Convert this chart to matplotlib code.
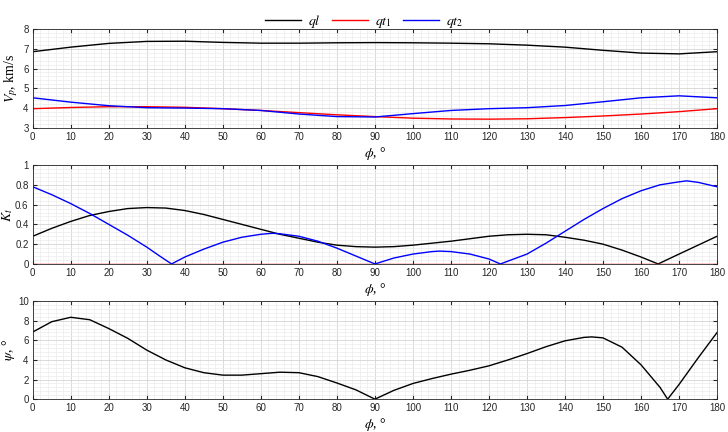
import numpy as np
import matplotlib
matplotlib.use("Agg")
import matplotlib.pyplot as plt
from matplotlib.ticker import MultipleLocator, FormatStrFormatter

plt.rcParams['mathtext.fontset'] = 'stix'
plt.rcParams['font.family'] = ['Liberation Sans', 'DejaVu Sans']

# --- velocities, km/s ---
phi_v = [0, 10, 20, 30, 40, 50, 60, 70, 80, 90, 100, 110, 120, 130, 140, 150, 160, 170, 180]
v_ql = [6.85, 7.08, 7.27, 7.37, 7.38, 7.32, 7.28, 7.28, 7.30, 7.31, 7.30, 7.28, 7.25, 7.18, 7.08, 6.92, 6.78, 6.74, 6.85]
v_qt1 = [3.97, 4.03, 4.07, 4.07, 4.04, 3.97, 3.88, 3.77, 3.66, 3.57, 3.49, 3.45, 3.44, 3.46, 3.52, 3.60, 3.70, 3.82, 3.97]
v_qt2 = [4.52, 4.30, 4.12, 4.02, 4.00, 3.97, 3.88, 3.70, 3.57, 3.55, 3.72, 3.88, 3.97, 4.02, 4.13, 4.32, 4.52, 4.62, 4.52]

# --- K coefficient ---
phi_k_ql = [0, 5, 10, 15, 20, 25, 30, 35, 40, 45, 50, 55, 60, 65, 70, 75, 80, 85, 90,
            95, 100, 105, 110, 115, 120, 125, 130, 135, 140, 145, 150, 155, 160, 164.5, 170, 175, 180]
k_ql = [0.28, 0.36, 0.43, 0.49, 0.53, 0.56, 0.57, 0.565, 0.54, 0.50, 0.45, 0.40, 0.35, 0.30, 0.26, 0.22, 0.19, 0.175, 0.17,
        0.175, 0.19, 0.21, 0.23, 0.255, 0.28, 0.295, 0.30, 0.295, 0.27, 0.24, 0.20, 0.14, 0.07, 0.0, 0.10, 0.19, 0.28]
phi_k_qt2 = [0, 5, 10, 15, 20, 25, 30, 33, 36.5, 40, 45, 50, 55, 60, 63, 65, 70, 75, 80, 85, 90,
             95, 100, 105, 107, 110, 115, 120, 123, 130, 135, 140, 145, 150, 155, 160, 165, 170, 172, 175, 180]
k_qt2 = [0.78, 0.70, 0.61, 0.51, 0.40, 0.29, 0.17, 0.09, 0.0, 0.07, 0.15, 0.22, 0.27, 0.30, 0.31, 0.305, 0.28, 0.23, 0.16, 0.08, 0.0,
         0.06, 0.10, 0.125, 0.13, 0.125, 0.10, 0.05, 0.0, 0.10, 0.21, 0.33, 0.45, 0.56, 0.66, 0.74, 0.80, 0.83, 0.84, 0.825, 0.78]
phi_k_qt1 = [0, 180]
k_qt1 = [0.0, 0.0]

# --- psi angle, deg ---
phi_psi = [0, 5, 10, 15, 20, 25, 30, 35, 40, 45, 50, 55, 60, 65, 70, 75, 80, 85, 90,
           95, 100, 105, 110, 115, 120, 125, 130, 135, 140, 145, 147, 150, 155, 160, 165, 167, 170, 175, 180]
psi = [6.85, 7.9, 8.35, 8.1, 7.2, 6.2, 5.0, 4.0, 3.2, 2.7, 2.45, 2.45, 2.6, 2.75, 2.7, 2.3, 1.65, 0.95, 0.0,
       0.9, 1.6, 2.1, 2.55, 2.95, 3.4, 4.0, 4.65, 5.35, 5.95, 6.3, 6.35, 6.25, 5.3, 3.5, 1.2, 0.0, 1.5, 4.2, 6.8]

fig = plt.figure(figsize=(7.28, 4.32), dpi=100)
ax1 = fig.add_axes([0.045, 0.704, 0.94, 0.229])
ax2 = fig.add_axes([0.045, 0.389, 0.94, 0.229])
ax3 = fig.add_axes([0.045, 0.076, 0.94, 0.227])

lw = 1.0
l1, = ax1.plot(phi_v, v_ql, color='black', lw=lw)
l2, = ax1.plot(phi_v, v_qt1, color='red', lw=lw)
l3, = ax1.plot(phi_v, v_qt2, color='blue', lw=lw)
ax1.set_ylim(3, 8)
ax1.yaxis.set_major_locator(MultipleLocator(1))
ax1.yaxis.set_minor_locator(MultipleLocator(0.2))
ax1.set_ylabel(r'$V_p$, km/s', family='Liberation Serif', fontsize=10)
ax1.yaxis.set_label_coords(-0.019, 0.5)

ax2.plot(phi_k_ql, k_ql, color='black', lw=lw)
ax2.plot(phi_k_qt1, k_qt1, color='red', lw=lw)
ax2.plot(phi_k_qt2, k_qt2, color='blue', lw=lw)
ax2.set_ylim(0, 1)
ax2.yaxis.set_major_locator(MultipleLocator(0.2))
ax2.yaxis.set_minor_locator(MultipleLocator(0.04))
ax2.set_ylabel(r'$K_t$', fontsize=10)
ax2.yaxis.set_label_coords(-0.026, 0.5)

ax3.plot(phi_psi, psi, color='black', lw=lw)
ax3.set_ylim(0, 10)
ax3.yaxis.set_major_locator(MultipleLocator(2))
ax3.yaxis.set_minor_locator(MultipleLocator(0.4))
ax3.set_ylabel(r'$\psi$, °', family='Liberation Serif', fontsize=10)
ax3.yaxis.set_label_coords(-0.023, 0.5)

for ax in (ax1, ax2, ax3):
    ax.set_xlim(0, 180)
    ax.xaxis.set_major_locator(MultipleLocator(10))
    ax.xaxis.set_minor_locator(MultipleLocator(2))
    ax.yaxis.set_major_formatter(FormatStrFormatter('%g'))
    ax.grid(True, which='major', color='#d4d4d4', lw=0.6)
    ax.grid(True, which='minor', color='#ececec', lw=0.5)
    ax.set_axisbelow(True)
    ax.tick_params(which='both', direction='in', top=True, right=True,
                   labelsize=7, colors='#262626', length=3, pad=3)
    ax.tick_params(which='minor', length=0)
    for s in ax.spines.values():
        s.set_color('#262626')
        s.set_linewidth(0.6)
    ax.set_xlabel(r'$\phi$, °', family='Liberation Serif', fontsize=10, labelpad=2)

fig.legend([l1, l2, l3], [r'$ql$', r'$qt_1$', r'$qt_2$'], loc='upper center',
           bbox_to_anchor=(0.5, 1.0), ncol=3, frameon=False, fontsize=10,
           handlelength=2.6, columnspacing=0.8, handletextpad=0.5)

fig.savefig('out.png', dpi=100)
